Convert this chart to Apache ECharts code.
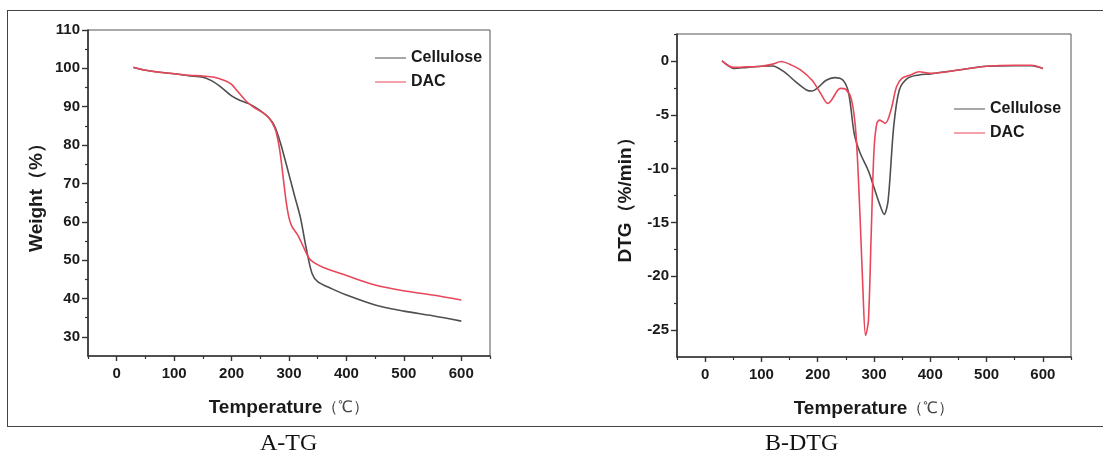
<!DOCTYPE html>
<html>
<head>
<meta charset="utf-8">
<script src="https://cdn.jsdelivr.net/npm/echarts@6/dist/echarts.min.js"></script>
<style>
html,body{margin:0;padding:0;background:#fff;}
#c{width:1103px;height:457px;}
</style>
</head>
<body>
<div id="c"></div>
<script>
// ---- Data ----
// A-TG: weight (%) vs temperature (°C)
const tgCelluloseT = [29, 50, 75, 100, 125, 150, 165, 180, 200, 215, 230, 250, 265, 275, 285, 300, 310, 320, 330, 340, 350, 375, 400, 450, 500, 550, 600];
const tgCelluloseW = [100.2, 99.5, 99.0, 98.6, 98.1, 97.7, 96.8, 95.3, 92.8, 91.6, 90.8, 89.0, 87.1, 84.9, 80.6, 72.3, 66.6, 61.0, 53.1, 46.6, 44.4, 42.5, 40.9, 38.3, 36.7, 35.5, 34.1];
const tgDacT = [29, 50, 75, 100, 125, 150, 170, 190, 200, 210, 225, 240, 255, 265, 275, 280, 285, 290, 295, 300, 305, 315, 325, 335, 345, 360, 400, 450, 500, 550, 600];
const tgDacW = [100.3, 99.5, 99.0, 98.6, 98.2, 98.0, 97.7, 96.7, 95.8, 94.1, 91.5, 89.7, 88.4, 87.1, 84.5, 81.9, 77.5, 71.4, 65.3, 61.0, 58.8, 56.6, 53.5, 50.5, 49.2, 48.1, 46.0, 43.5, 42.0, 40.9, 39.6];

// B-DTG: DTG (%/min) vs temperature (°C)
const dtgCelluloseT = [30, 40, 50, 75, 100, 120, 140, 160, 180, 190, 200, 215, 230, 245, 255, 265, 275, 290, 300, 310, 318, 325, 335, 345, 360, 380, 400, 450, 500, 550, 580, 600];
const dtgCelluloseV = [0, -0.4, -0.7, -0.6, -0.5, -0.47, -1.0, -1.9, -2.7, -2.8, -2.5, -1.8, -1.55, -1.8, -3.0, -6.8, -8.5, -10.2, -11.75, -13.3, -14.25, -13.0, -6.1, -2.7, -1.6, -1.3, -1.2, -0.85, -0.5, -0.45, -0.45, -0.7];
const dtgDacT = [30, 40, 50, 75, 100, 120, 135, 150, 170, 190, 205, 218, 225, 240, 250, 260, 268, 275, 280, 285, 290, 295, 300, 305, 310, 320, 330, 340, 350, 365, 380, 400, 450, 500, 550, 580, 600];
const dtgDacV = [0, -0.4, -0.6, -0.55, -0.5, -0.3, -0.05, -0.3, -0.85, -1.8, -3.0, -3.95, -3.6, -2.55, -2.65, -3.6, -6.8, -14.2, -20.8, -25.5, -24.2, -16.1, -8.3, -5.8, -5.5, -5.8, -4.6, -2.4, -1.6, -1.3, -1.0, -1.15, -0.85, -0.5, -0.4, -0.4, -0.7];

// Tick labels
const tempTicks = [0, 100, 200, 300, 400, 500, 600];
const tempMinorTicks = [-50, 50, 150, 250, 350, 450, 550, 650];
const weightTicks = [30, 40, 50, 60, 70, 80, 90, 100, 110];
const weightMinorTicks = [35, 45, 55, 65, 75, 85, 95, 105];
const dtgTicks = [-25, -20, -15, -10, -5, 0];
const dtgMinorTicks = [-22.5, -17.5, -12.5, -7.5, -2.5, 2.5];

const seriesNames = ['Cellulose', 'DAC'];
const captions = ['A-TG', 'B-DTG'];

// ---- Styles ----
const GRAY = '#4f4f4f';
const RED = '#e8475a';
const AX = '#333';
const SANS = 'Liberation Sans, Arial, sans-serif';
const labelFont = {fontFamily: SANS, fontWeight: 'bold', fontSize: 15, color: '#1a1a1a'};
const nameFont = {fontFamily: SANS, fontWeight: 'bold', fontSize: 19, color: '#1a1a1a',
  rich: {u: {fontFamily: SANS, fontWeight: 'normal', fontSize: 16, color: '#444'}}};

function zip(a, b){ return a.map((v, i) => [v, b[i]]); }

function xAxes(gridIndex){
  return [{
    type: 'value', gridIndex, min: -50, max: 650, position: 'bottom',
    name: 'Temperature{u|（℃）}', nameLocation: 'middle', nameGap: 42, nameTextStyle: nameFont,
    axisLine: {show: true, onZero: false, lineStyle: {color: AX, width: 1.6}},
    axisTick: {show: true, length: 5, customValues: tempTicks, lineStyle: {color: AX, width: 1.4}},
    axisLabel: {show: true, customValues: tempTicks, margin: 10, ...labelFont},
    splitLine: {show: false}
  }, {
    type: 'value', gridIndex, min: -50, max: 650, position: 'bottom',
    axisLine: {show: false, onZero: false},
    axisTick: {show: true, length: 3, customValues: tempMinorTicks, lineStyle: {color: AX, width: 1.2}},
    axisLabel: {show: false}, splitLine: {show: false}
  }];
}

function yAxes(gridIndex, min, max, ticks, minor, name, gap){
  return [{
    type: 'value', gridIndex, min, max, position: 'left',
    name, nameLocation: 'middle', nameGap: gap, nameTextStyle: nameFont,
    axisLine: {show: true, onZero: false, lineStyle: {color: AX, width: 1.6}},
    axisTick: {show: true, length: 6, customValues: ticks, lineStyle: {color: AX, width: 1.4}},
    axisLabel: {show: true, customValues: ticks, margin: 8, ...labelFont},
    splitLine: {show: false}
  }, {
    type: 'value', gridIndex, min, max, position: 'left',
    axisLine: {show: false, onZero: false},
    axisTick: {show: true, length: 3, customValues: minor, lineStyle: {color: AX, width: 1.2}},
    axisLabel: {show: false}, splitLine: {show: false}
  }];
}

const chart = echarts.init(document.getElementById('c'), null, {renderer: 'canvas'});

const legendBase = {
  orient: 'vertical', itemWidth: 31, itemHeight: 14, itemGap: 8, icon: 'path://M0,7 L31,7 L31,8 L0,8 Z',
  textStyle: {fontFamily: SANS, fontWeight: 'bold', fontSize: 16, color: '#1a1a1a'},
  data: seriesNames
};

const line = (name, color, xi, yi, data) => ({
  type: 'line', name, xAxisIndex: xi, yAxisIndex: yi, data, smooth: 0.3, symbol: 'none',
  lineStyle: {color, width: 1.6}, itemStyle: {color}, animation: false
});

chart.setOption({
  animation: false,
  backgroundColor: '#fff',
  grid: [
    {left: 88, top: 30, width: 402, height: 326, show: true, borderColor: '#555', borderWidth: 1},
    {left: 677, top: 34, width: 394, height: 323, show: true, borderColor: '#555', borderWidth: 1}
  ],
  xAxis: [...xAxes(0), ...xAxes(1)],
  yAxis: [
    ...yAxes(0, 25, 110, weightTicks, weightMinorTicks, 'Weight（%）', 42),
    ...yAxes(1, -27.5, 2.5, dtgTicks, dtgMinorTicks, 'DTG（%/min）', 42)
  ],
  legend: [
    {...legendBase, left: 370, top: 45},
    {...legendBase, left: 949, top: 96}
  ],
  series: [
    line(seriesNames[0], GRAY, 0, 0, zip(tgCelluloseT, tgCelluloseW)),
    line(seriesNames[1], RED, 0, 0, zip(tgDacT, tgDacW)),
    line(seriesNames[0], GRAY, 2, 2, zip(dtgCelluloseT, dtgCelluloseV)),
    line(seriesNames[1], RED, 2, 2, zip(dtgDacT, dtgDacV))
  ],
  graphic: [
    {type: 'line', shape: {x1: 7, y1: 10.5, x2: 1103, y2: 10.5}, style: {stroke: '#444', lineWidth: 1}},
    {type: 'line', shape: {x1: 7, y1: 426.5, x2: 1103, y2: 426.5}, style: {stroke: '#444', lineWidth: 1}},
    {type: 'line', shape: {x1: 7.5, y1: 10, x2: 7.5, y2: 427}, style: {stroke: '#444', lineWidth: 1}},
    {type: 'text', left: 260, top: 432, style: {text: captions[0], font: '24px "Liberation Serif", "Times New Roman", serif', fill: '#111'}},
    {type: 'text', left: 765, top: 432, style: {text: captions[1], font: '24px "Liberation Serif", "Times New Roman", serif', fill: '#111'}}
  ]
});
</script>
</body>
</html>
